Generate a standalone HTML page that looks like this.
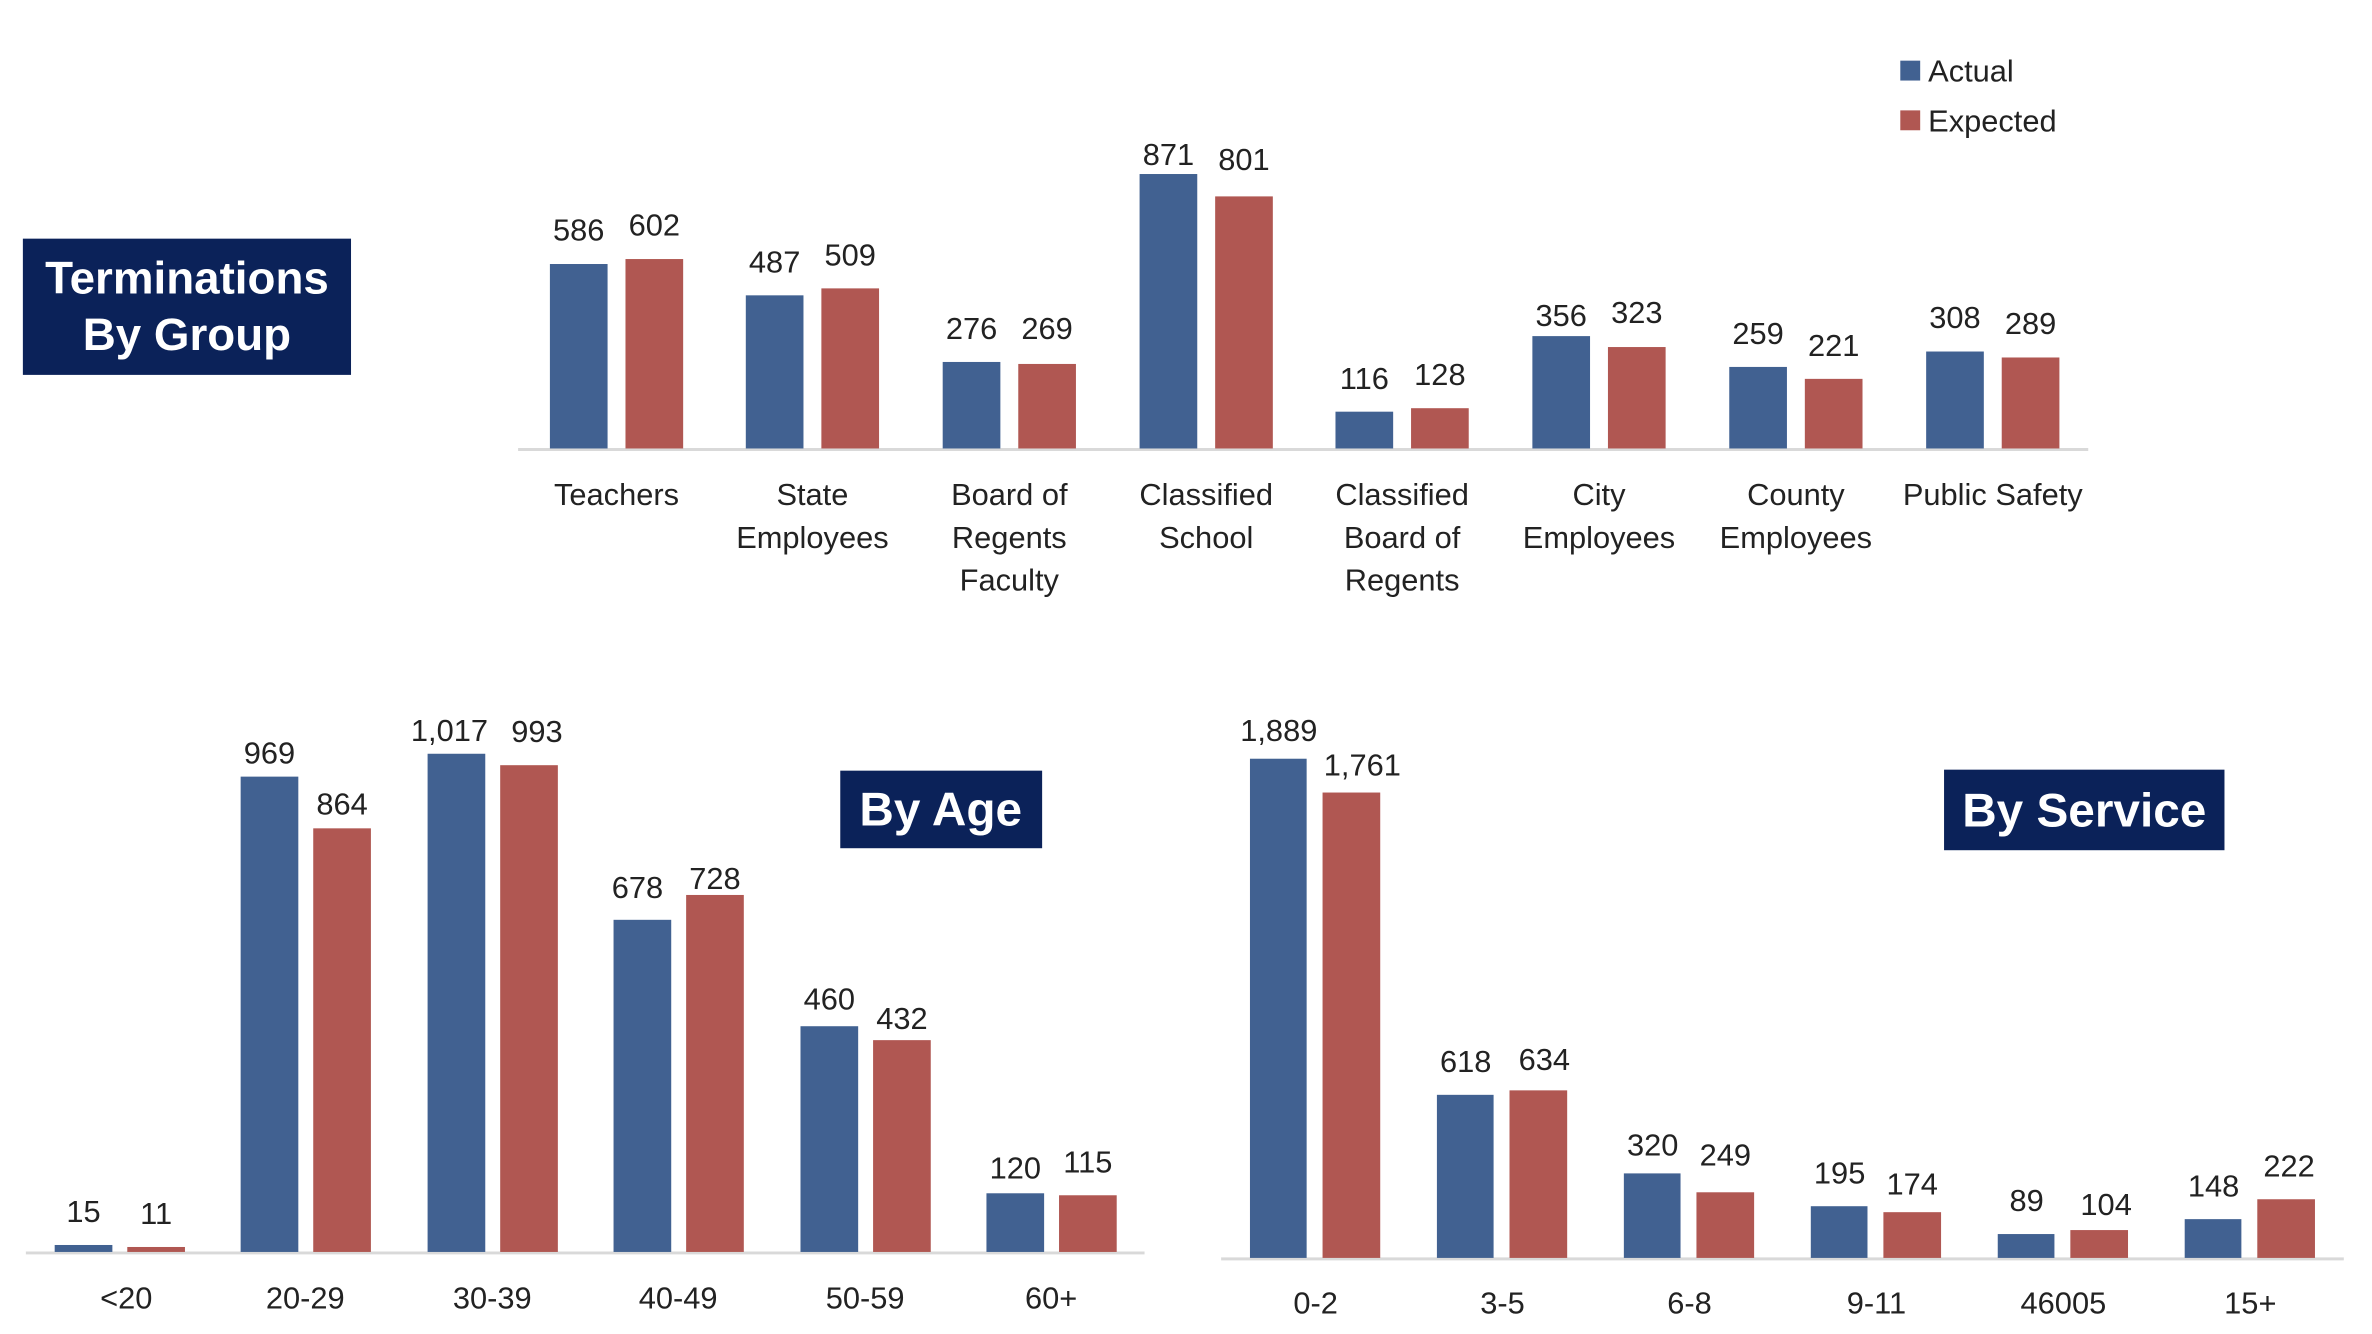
<!DOCTYPE html>
<html><head><meta charset="utf-8"><style>
html,body{margin:0;padding:0;background:#fff;}
svg{display:block;}
.v{font-family:"Liberation Sans Narrow","Liberation Sans",sans-serif;font-size:31px;fill:#222;text-anchor:middle;}
.c{font-family:"Liberation Sans Narrow","Liberation Sans",sans-serif;font-size:31px;fill:#222;text-anchor:middle;}
.t{font-family:"Liberation Sans",sans-serif;font-weight:bold;fill:#fff;text-anchor:middle;}
.b{fill:#416191;} .r{fill:#B05752;}
</style></head><body>
<svg width="2372" height="1334" viewBox="0 0 2372 1334" xmlns="http://www.w3.org/2000/svg">
<g transform="scale(0.9944)">
<!-- Title box -->
<rect x="23" y="240" width="330" height="137" fill="#0B2259"/>
<text class="t" x="188" y="295" font-size="46">Terminations</text>
<text class="t" x="188" y="352" font-size="46">By Group</text>
<!-- Legend -->
<rect x="1911" y="61" width="20" height="20" class="b"/>
<text x="1939" y="82" style="font-family:'Liberation Sans Narrow','Liberation Sans',sans-serif;font-size:31px;fill:#222">Actual</text>
<rect x="1911" y="111" width="20" height="20" class="r"/>
<text x="1939" y="132" style="font-family:'Liberation Sans Narrow','Liberation Sans',sans-serif;font-size:31px;fill:#222">Expected</text>
<!-- Top chart -->
<line x1="521" y1="452" x2="2100" y2="452" stroke="#d9d9d9" stroke-width="3"/>
<g>
<rect class="b" x="553" y="265.5" width="58" height="185.5"/><rect class="r" x="629" y="260.5" width="58" height="190.5"/>
<text class="v" x="582" y="242">586</text><text class="v" x="658" y="237">602</text>
<rect class="b" x="750" y="297" width="58" height="154"/><rect class="r" x="826" y="290" width="58" height="161"/>
<text class="v" x="779" y="274">487</text><text class="v" x="855" y="267">509</text>
<rect class="b" x="948" y="364" width="58" height="87"/><rect class="r" x="1024" y="366" width="58" height="85"/>
<text class="v" x="977" y="341">276</text><text class="v" x="1053" y="341">269</text>
<rect class="b" x="1146" y="175" width="58" height="276"/><rect class="r" x="1222" y="197.5" width="58" height="253.5"/>
<text class="v" x="1175" y="166">871</text><text class="v" x="1251" y="171">801</text>
<rect class="b" x="1343" y="414" width="58" height="37"/><rect class="r" x="1419" y="410.5" width="58" height="40.5"/>
<text class="v" x="1372" y="391">116</text><text class="v" x="1448" y="387">128</text>
<rect class="b" x="1541" y="338" width="58" height="113"/><rect class="r" x="1617" y="349" width="58" height="102"/>
<text class="v" x="1570" y="328">356</text><text class="v" x="1646" y="325">323</text>
<rect class="b" x="1739" y="369" width="58" height="82"/><rect class="r" x="1815" y="381" width="58" height="70"/>
<text class="v" x="1768" y="346">259</text><text class="v" x="1844" y="358">221</text>
<rect class="b" x="1937" y="353.5" width="58" height="97.5"/><rect class="r" x="2013" y="359.5" width="58" height="91.5"/>
<text class="v" x="1966" y="330">308</text><text class="v" x="2042" y="336">289</text>
</g>
<g class="c">
<text class="c" x="620" y="508">Teachers</text>
<text class="c" x="817" y="508">State</text><text class="c" x="817" y="551">Employees</text>
<text class="c" x="1015" y="508">Board of</text><text class="c" x="1015" y="551">Regents</text><text class="c" x="1015" y="594">Faculty</text>
<text class="c" x="1213" y="508">Classified</text><text class="c" x="1213" y="551">School</text>
<text class="c" x="1410" y="508">Classified</text><text class="c" x="1410" y="551">Board of</text><text class="c" x="1410" y="594">Regents</text>
<text class="c" x="1608" y="508">City</text><text class="c" x="1608" y="551">Employees</text>
<text class="c" x="1806" y="508">County</text><text class="c" x="1806" y="551">Employees</text>
<text class="c" x="2004" y="508">Public Safety</text>
</g>
<!-- Age chart -->
<line x1="26" y1="1260" x2="1151" y2="1260" stroke="#d9d9d9" stroke-width="3"/>
<rect class="b" x="55" y="1252" width="58" height="7"/><rect class="r" x="128" y="1254" width="58" height="5"/>
<text class="v" x="84" y="1229">15</text><text class="v" x="157" y="1231">11</text>
<rect class="b" x="242" y="781" width="58" height="478"/><rect class="r" x="315" y="833" width="58" height="426"/>
<text class="v" x="271" y="768">969</text><text class="v" x="344" y="819">864</text>
<rect class="b" x="430" y="758" width="58" height="501"/><rect class="r" x="503" y="769.5" width="58" height="489.5"/>
<text class="v" x="452" y="745">1,017</text><text class="v" x="540" y="746">993</text>
<rect class="b" x="617" y="925" width="58" height="334"/><rect class="r" x="690" y="900" width="58" height="359"/>
<text class="v" x="641" y="903">678</text><text class="v" x="719" y="894">728</text>
<rect class="b" x="805" y="1032" width="58" height="227"/><rect class="r" x="878" y="1046" width="58" height="213"/>
<text class="v" x="834" y="1015">460</text><text class="v" x="907" y="1035">432</text>
<rect class="b" x="992" y="1200" width="58" height="59"/><rect class="r" x="1065" y="1202" width="58" height="57"/>
<text class="v" x="1021" y="1185">120</text><text class="v" x="1094" y="1179">115</text>
<text class="c" x="127" y="1316">&lt;20</text><text class="c" x="307" y="1316">20-29</text><text class="c" x="495" y="1316">30-39</text>
<text class="c" x="682" y="1316">40-49</text><text class="c" x="870" y="1316">50-59</text><text class="c" x="1057" y="1316">60+</text>
<rect x="845" y="775" width="203" height="78" fill="#0B2259"/>
<text class="t" x="946" y="830" font-size="48">By Age</text>
<!-- Service chart -->
<line x1="1228" y1="1266" x2="2357" y2="1266" stroke="#d9d9d9" stroke-width="3"/>
<rect class="b" x="1257" y="763" width="57" height="502"/><rect class="r" x="1330" y="797" width="58" height="468"/>
<text class="v" x="1286" y="745">1,889</text><text class="v" x="1370" y="780">1,761</text>
<rect class="b" x="1445" y="1101" width="57" height="164"/><rect class="r" x="1518" y="1096.5" width="58" height="168.5"/>
<text class="v" x="1474" y="1078">618</text><text class="v" x="1553" y="1076">634</text>
<rect class="b" x="1633" y="1180" width="57" height="85"/><rect class="r" x="1706" y="1199" width="58" height="66"/>
<text class="v" x="1662" y="1162">320</text><text class="v" x="1735" y="1172">249</text>
<rect class="b" x="1821" y="1213" width="57" height="52"/><rect class="r" x="1894" y="1219" width="58" height="46"/>
<text class="v" x="1850" y="1190">195</text><text class="v" x="1923" y="1201">174</text>
<rect class="b" x="2009" y="1241" width="57" height="24"/><rect class="r" x="2082" y="1237" width="58" height="28"/>
<text class="v" x="2038" y="1218">89</text><text class="v" x="2118" y="1222">104</text>
<rect class="b" x="2197" y="1226" width="57" height="39"/><rect class="r" x="2270" y="1206" width="58" height="59"/>
<text class="v" x="2226" y="1203">148</text><text class="v" x="2302" y="1183">222</text>
<text class="c" x="1323" y="1321">0-2</text><text class="c" x="1511" y="1321">3-5</text><text class="c" x="1699" y="1321">6-8</text>
<text class="c" x="1887" y="1321">9-11</text><text class="c" x="2075" y="1321">46005</text><text class="c" x="2263" y="1321">15+</text>
<rect x="1955" y="774" width="282" height="81" fill="#0B2259"/>
<text class="t" x="2096" y="831" font-size="48">By Service</text>
</g>
</svg>
</body></html>
